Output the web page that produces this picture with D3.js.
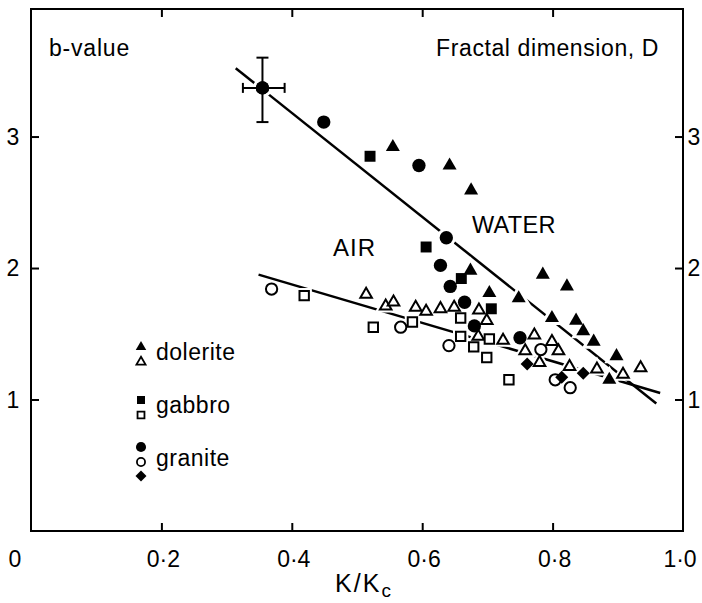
<!DOCTYPE html>
<html lang="en">
<head>
<meta charset="UTF-8">
<title>b-value vs K/Kc</title>
<style>
  body { margin: 0; background: #fff; }
  svg { display: block; font-family: "Liberation Sans", Arial, sans-serif; }
</style>
<script src="https://d3js.org/d3.v7.min.js"></script>
</head>
<body>
<div id="chart"></div>
<script>
// data: [K/Kc, b-value]
const doleriteWater = [[0.555,2.92],[0.642,2.78],[0.675,2.59],[0.674,1.98],[0.703,1.81],[0.748,1.77],
  [0.785,1.95],[0.822,1.86],[0.799,1.62],[0.836,1.60],[0.847,1.52],[0.863,1.44],[0.898,1.33],[0.887,1.15]];
const doleriteAir = [[0.514,1.80],[0.544,1.71],[0.556,1.74],[0.590,1.70],[0.606,1.67],[0.628,1.69],
  [0.649,1.70],[0.687,1.68],[0.699,1.60],[0.686,1.48],[0.724,1.45],[0.772,1.49],[0.799,1.44],
  [0.809,1.37],[0.758,1.37],[0.780,1.28],[0.826,1.25],[0.868,1.23],[0.908,1.19],[0.935,1.24]];
const gabbroWater = [[0.520,2.85],[0.606,2.16],[0.660,1.92],[0.706,1.69]];
const gabbroAir = [[0.419,1.79],[0.525,1.55],[0.585,1.59],[0.659,1.62],[0.659,1.48],[0.679,1.40],
  [0.703,1.46],[0.699,1.32],[0.733,1.15]];
const graniteWater = [[0.355,3.37],[0.449,3.11],[0.595,2.78],[0.637,2.23],[0.628,2.02],[0.643,1.86],
  [0.665,1.74],[0.680,1.56],[0.750,1.47]];
const graniteAir = [[0.369,1.84],[0.567,1.55],[0.641,1.41],[0.782,1.38],[0.804,1.15],[0.827,1.09]];
const graniteOther = [[0.761,1.27],[0.814,1.17],[0.847,1.20]];

// error bar on the first granite point
const errX = [0.325, 0.389];
const errY = [3.11, 3.60];

// fitted lines
const waterLine = [[0.314,3.52],[0.959,0.97]];
const airLine = [[0.349,1.95],[0.965,1.05]];

const xTicks = [0.2, 0.4, 0.6, 0.8];
const xTickVals = [0, 0.2, 0.4, 0.6, 0.8, 1.0];
const xTickLabels = ["0", "0·2", "0·4", "0·6", "0·8", "1·0"];
const yTicks = [1, 2, 3];

const width = 702, height = 603;
const x = d3.scaleLinear().domain([0, 1]).range([31, 683]);
const y = d3.scaleLinear().domain([0, 3.97]).range([531, 9]);

const svg = d3.select("#chart").append("svg")
  .attr("width", width)
  .attr("height", height);

// frame
svg.append("rect")
  .attr("x", x(0)).attr("y", y(3.97))
  .attr("width", x(1) - x(0)).attr("height", y(0) - y(3.97))
  .attr("fill", "none").attr("stroke", "#000").attr("stroke-width", 2);

// inside ticks on all four sides
const tl = 8;
function inner(g) {
  g.select(".domain").remove();
  g.selectAll("line").attr("stroke-width", 2);
}
svg.append("g").attr("transform", `translate(0,${y(0)})`)
  .call(d3.axisBottom(x).tickValues(xTicks).tickSizeInner(-tl).tickSizeOuter(0).tickFormat(""))
  .call(inner);
svg.append("g").attr("transform", `translate(0,${y(3.97)})`)
  .call(d3.axisTop(x).tickValues(xTicks).tickSizeInner(-tl).tickSizeOuter(0).tickFormat(""))
  .call(inner);
svg.append("g").attr("transform", `translate(${x(0)},0)`)
  .call(d3.axisLeft(y).tickValues(yTicks).tickSizeInner(-tl).tickSizeOuter(0).tickFormat(""))
  .call(inner);
svg.append("g").attr("transform", `translate(${x(1)},0)`)
  .call(d3.axisRight(y).tickValues(yTicks).tickSizeInner(-tl).tickSizeOuter(0).tickFormat(""))
  .call(inner);

// tick labels
svg.append("g").selectAll("text")
  .data(xTickVals)
  .enter().append("text")
  .attr("x", (d, i) => i === 0 ? 15 : (i === 5 ? 680 : x(d) + 2))
  .attr("y", 567)
  .attr("text-anchor", "middle")
  .attr("font-size", 23)
  .text((d, i) => xTickLabels[i]);

svg.append("g").selectAll("text")
  .data(yTicks)
  .enter().append("text")
  .attr("x", 13)
  .attr("y", d => y(d) + 8)
  .attr("text-anchor", "middle")
  .attr("font-size", 23)
  .text(d => d);

svg.append("g").selectAll("text")
  .data(yTicks)
  .enter().append("text")
  .attr("x", 694)
  .attr("y", d => y(d) + 8)
  .attr("text-anchor", "middle")
  .attr("font-size", 23)
  .text(d => d);

// axis title K/Kc
const xt = svg.append("text")
  .attr("x", 364).attr("y", 592)
  .attr("text-anchor", "middle")
  .attr("font-size", 25)
  .attr("letter-spacing", 2);
xt.append("tspan").text("K/K");
xt.append("tspan").attr("dy", 5).attr("font-size", 19).text("c");

svg.append("text").attr("x", 49).attr("y", 56).attr("font-size", 23)
  .attr("letter-spacing", 0.8).text("b-value");
svg.append("text").attr("x", 659).attr("y", 56).attr("text-anchor", "end")
  .attr("font-size", 23).attr("letter-spacing", 0.6).text("Fractal dimension, D");
svg.append("text").attr("x", 333).attr("y", 256).attr("font-size", 24)
  .attr("letter-spacing", 1).text("AIR");
svg.append("text").attr("x", 472).attr("y", 233).attr("font-size", 23.5)
  .attr("letter-spacing", 0.3).text("WATER");

// fitted lines
const line = d3.line().x(d => x(d[0])).y(d => y(d[1]));
[waterLine, airLine].forEach(l => {
  svg.append("path").datum(l)
    .attr("d", line)
    .attr("fill", "none")
    .attr("stroke", "#000")
    .attr("stroke-width", 2.5);
});

// error bar
const eb = svg.append("g").attr("stroke", "#000").attr("stroke-width", 2);
const px = graniteWater[0][0], py = graniteWater[0][1];
eb.append("line").attr("x1", x(errX[0])).attr("x2", x(errX[1])).attr("y1", y(py)).attr("y2", y(py));
eb.append("line").attr("x1", x(px)).attr("x2", x(px)).attr("y1", y(errY[0])).attr("y2", y(errY[1]));
eb.append("line").attr("x1", x(errX[0])).attr("x2", x(errX[0])).attr("y1", y(py) - 5).attr("y2", y(py) + 5);
eb.append("line").attr("x1", x(errX[1])).attr("x2", x(errX[1])).attr("y1", y(py) - 5).attr("y2", y(py) + 5);
eb.append("line").attr("x1", x(px) - 6).attr("x2", x(px) + 6).attr("y1", y(errY[0])).attr("y2", y(errY[0]));
eb.append("line").attr("x1", x(px) - 6).attr("x2", x(px) + 6).attr("y1", y(errY[1])).attr("y2", y(errY[1]));

// marker groups (diamond = square turned 45 degrees)
const groups = [
  { data: doleriteWater, type: d3.symbolTriangle, size: 85, filled: true, rot: 0 },
  { data: doleriteAir, type: d3.symbolTriangle, size: 58, filled: false, rot: 0 },
  { data: gabbroWater, type: d3.symbolSquare, size: 120, filled: true, rot: 0 },
  { data: gabbroAir, type: d3.symbolSquare, size: 88, filled: false, rot: 0 },
  { data: graniteWater, type: d3.symbolCircle, size: 140, filled: true, rot: 0 },
  { data: graniteAir, type: d3.symbolCircle, size: 100, filled: false, rot: 0 },
  { data: graniteOther, type: d3.symbolSquare, size: 85, filled: true, rot: 45 }
];

// white halos first so lines break around markers
groups.forEach(g => {
  svg.append("g").selectAll("path")
    .data(g.data)
    .enter().append("path")
    .attr("transform", d => `translate(${x(d[0])},${y(d[1])}) rotate(${g.rot})`)
    .attr("d", d3.symbol().type(g.type).size(g.size))
    .attr("fill", "#fff")
    .attr("stroke", "#fff")
    .attr("stroke-width", 6);
});
groups.forEach(g => {
  svg.append("g").selectAll("path")
    .data(g.data)
    .enter().append("path")
    .attr("transform", d => `translate(${x(d[0])},${y(d[1])}) rotate(${g.rot})`)
    .attr("d", d3.symbol().type(g.type).size(g.size))
    .attr("fill", g.filled ? "#000" : "#fff")
    .attr("stroke", "#000")
    .attr("stroke-width", g.filled ? 0 : 2);
});
// error bar goes over the halo of its point
eb.raise();
svg.append("path")
  .attr("transform", `translate(${x(px)},${y(py)})`)
  .attr("d", d3.symbol().type(d3.symbolCircle).size(140));

// legend
const legendRows = [
  { label: "dolerite", ty: 360, marks: [[d3.symbolTriangle, 48, true, 347, 0], [d3.symbolTriangle, 36, false, 362, 0]] },
  { label: "gabbro", ty: 413, marks: [[d3.symbolSquare, 64, true, 400, 0], [d3.symbolSquare, 48, false, 415, 0]] },
  { label: "granite", ty: 466, marks: [[d3.symbolCircle, 80, true, 447, 0], [d3.symbolCircle, 52, false, 462, 0], [d3.symbolSquare, 60, true, 476, 45]] }
];
const lg = svg.append("g");
legendRows.forEach(r => {
  r.marks.forEach(m => {
    lg.append("path")
      .attr("transform", `translate(141,${m[3]}) rotate(${m[4]})`)
      .attr("d", d3.symbol().type(m[0]).size(m[1]))
      .attr("fill", m[2] ? "#000" : "#fff")
      .attr("stroke", "#000")
      .attr("stroke-width", m[2] ? 0 : 1.8);
  });
  lg.append("text").attr("x", 156).attr("y", r.ty).attr("font-size", 23)
    .attr("letter-spacing", 0.5).text(r.label);
});
</script>
</body>
</html>
